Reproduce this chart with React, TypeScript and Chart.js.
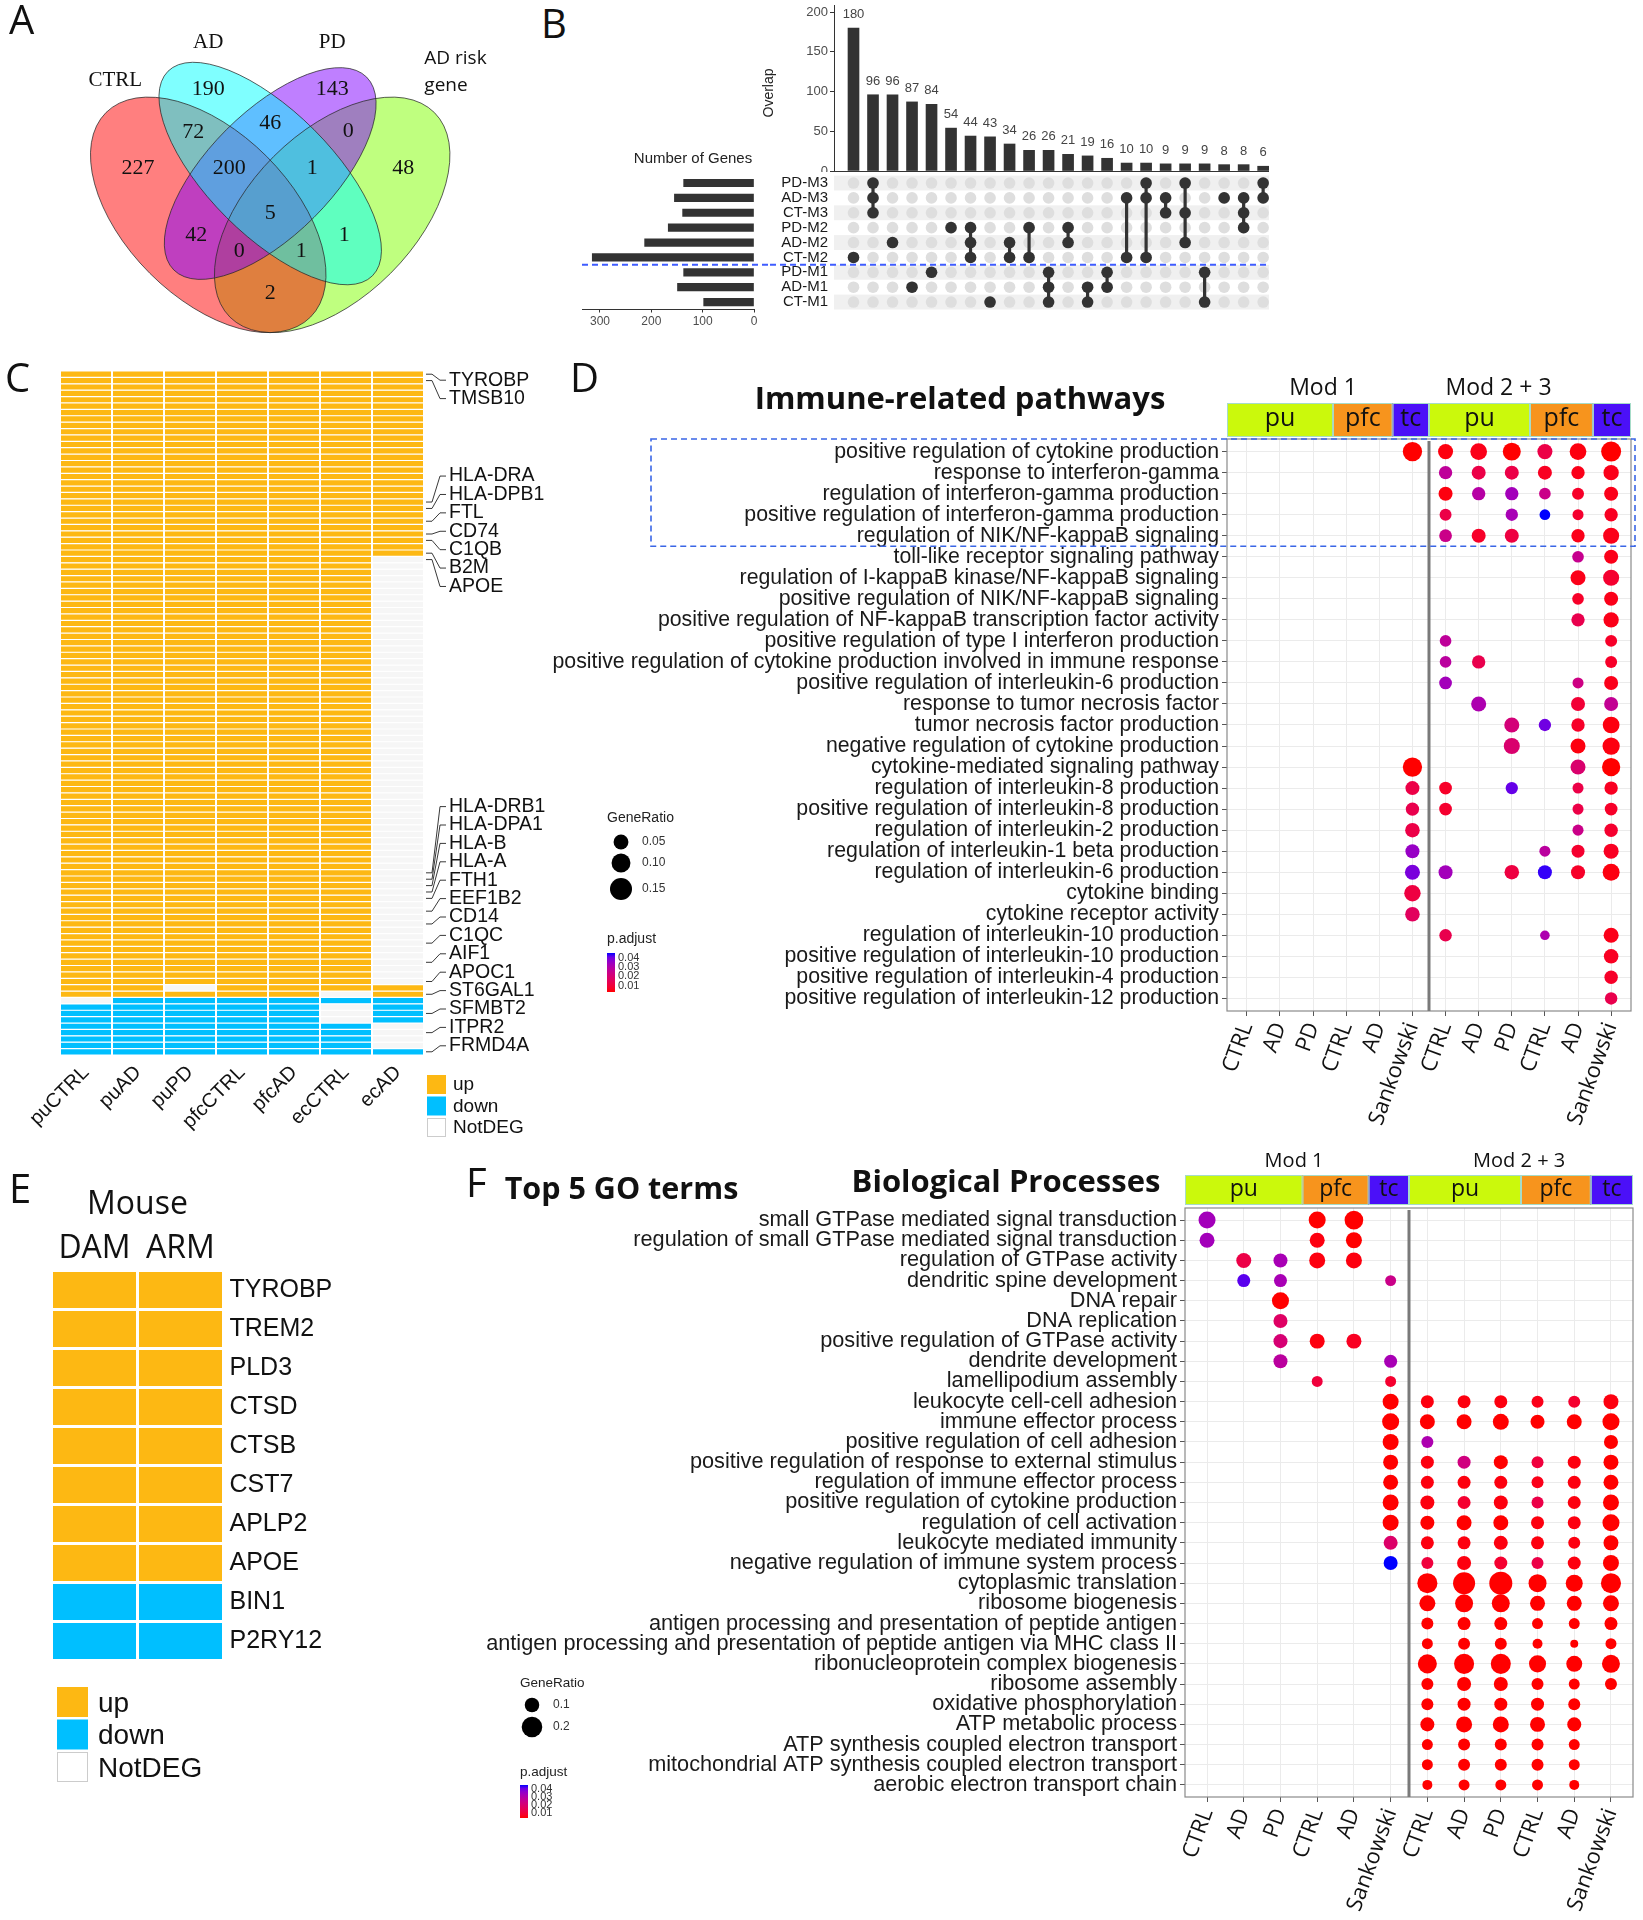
import React, { useEffect, useRef } from 'react';
import { Chart, registerables } from 'chart.js';

Chart.register(...registerables);

const SANS = '"Liberation Sans", Arial, Helvetica, sans-serif';
const MYR = '"Open Sans", "Noto Sans", sans-serif';
const SERIF = '"Liberation Serif", "Times New Roman", serif';
Chart.defaults.font.family = SANS;

/* ================= A: Venn ================= */
const vennSetNames = ['CTRL', 'AD', 'PD', 'AD risk\ngene'];
const vennCounts = [227, 190, 143, 48, 72, 46, 0, 200, 1, 5, 42, 0, 1, 1, 2];

/* ================= B: UpSet ================= */
const upsetSets = ['PD-M3', 'AD-M3', 'CT-M3', 'PD-M2', 'AD-M2', 'CT-M2', 'PD-M1', 'AD-M1', 'CT-M1'];
const upsetSetSizes = [137, 155, 139, 167, 213, 315, 137, 149, 98];
const upsetOverlap = [180, 96, 96, 87, 84, 54, 44, 43, 34, 26, 26, 21, 19, 16, 10, 10, 9, 9, 9, 8, 8, 6];
const upsetMembers = [
  ['CT-M2'], ['PD-M3', 'AD-M3', 'CT-M3'], ['AD-M2'], ['AD-M1'], ['PD-M1'], ['PD-M2'],
  ['PD-M2', 'AD-M2', 'CT-M2'], ['CT-M1'], ['AD-M2', 'CT-M2'], ['PD-M2', 'CT-M2'],
  ['PD-M1', 'AD-M1', 'CT-M1'], ['PD-M2', 'AD-M2'], ['AD-M1', 'CT-M1'], ['PD-M1', 'AD-M1'],
  ['AD-M3', 'CT-M2'], ['PD-M3', 'AD-M3', 'CT-M2'], ['AD-M3', 'CT-M3'], ['PD-M3', 'CT-M3', 'AD-M2'],
  ['PD-M1', 'CT-M1'], ['AD-M3'], ['AD-M3', 'CT-M3', 'PD-M2'], ['PD-M3', 'AD-M3'],
];
const overlapTicks = [0, 50, 100, 150, 200];
const setSizeTicks = [0, 100, 200, 300];

/* ================= C: DEG heatmap ================= */
const degSamples = ['puCTRL', 'puAD', 'puPD', 'pfcCTRL', 'pfcAD', 'ecCTRL', 'ecAD'];
const runsPuCTRL: [string, number][] = [['up', 98], ['NotDEG', 1], ['down', 8]];
const runsPuAD: [string, number][] = [['up', 98], ['down', 9]];
const runsPuPD: [string, number][] = [['up', 96], ['NotDEG', 1], ['up', 1], ['down', 9]];
const runsPfcCTRL: [string, number][] = [['up', 98], ['down', 9]];
const runsPfcAD: [string, number][] = [['up', 98], ['down', 9]];
const runsEcCTRL: [string, number][] = [['up', 97], ['NotDEG', 1], ['down', 1], ['NotDEG', 3], ['down', 5]];
const runsEcAD: [string, number][] = [['up', 29], ['NotDEG', 67], ['up', 2], ['down', 4], ['NotDEG', 4], ['down', 1]];
const markedGenes = ['TYROBP', 'TMSB10', 'HLA-DRA', 'HLA-DPB1', 'FTL', 'CD74', 'C1QB', 'B2M', 'APOE',
  'HLA-DRB1', 'HLA-DPA1', 'HLA-B', 'HLA-A', 'FTH1', 'EEF1B2', 'CD14', 'C1QC', 'AIF1', 'APOC1',
  'ST6GAL1', 'SFMBT2', 'ITPR2', 'FRMD4A'];
const markedRows = [0, 1, 20, 21, 23, 25, 26, 28, 29, 78, 79, 80, 81, 82, 84, 86, 89, 92, 95, 97, 100, 103, 106];
const statusLegend = ['up', 'down', 'NotDEG'];

/* ================= D: immune pathways ================= */
const immuneTerms = [
  'positive regulation of cytokine production',
  'response to interferon-gamma',
  'regulation of interferon-gamma production',
  'positive regulation of interferon-gamma production',
  'regulation of NIK/NF-kappaB signaling',
  'toll-like receptor signaling pathway',
  'regulation of I-kappaB kinase/NF-kappaB signaling',
  'positive regulation of NIK/NF-kappaB signaling',
  'positive regulation of NF-kappaB transcription factor activity',
  'positive regulation of type I interferon production',
  'positive regulation of cytokine production involved in immune response',
  'positive regulation of interleukin-6 production',
  'response to tumor necrosis factor',
  'tumor necrosis factor production',
  'negative regulation of cytokine production',
  'cytokine-mediated signaling pathway',
  'regulation of interleukin-8 production',
  'positive regulation of interleukin-8 production',
  'regulation of interleukin-2 production',
  'regulation of interleukin-1 beta production',
  'regulation of interleukin-6 production',
  'cytokine binding',
  'cytokine receptor activity',
  'regulation of interleukin-10 production',
  'positive regulation of interleukin-10 production',
  'positive regulation of interleukin-4 production',
  'positive regulation of interleukin-12 production',
];
const moduleGroups = ['CTRL', 'AD', 'PD', 'CTRL', 'AD', 'Sankowski', 'CTRL', 'AD', 'PD', 'CTRL', 'AD', 'Sankowski'];
// [term row, group column, GeneRatio, p.adjust]
const immuneDots = [
  [0, 5, .106, .003], [0, 6, .052, .004], [0, 7, .071, .005], [0, 8, .087, .003], [0, 9, .052, .012], [0, 10, .071, .004], [0, 11, .116, .003],
  [1, 6, .036, .027], [1, 7, .042, .012], [1, 8, .042, .012], [1, 9, .042, .006], [1, 10, .036, .005], [1, 11, .055, .005],
  [2, 6, .042, .004], [2, 7, .036, .029], [2, 8, .036, .033], [2, 9, .023, .024], [2, 10, .025, .007], [2, 11, .042, .005],
  [3, 6, .025, .012], [3, 8, .028, .032], [3, 9, .017, .045], [3, 10, .019, .008], [3, 11, .036, .006],
  [4, 6, .031, .024], [4, 7, .042, .007], [4, 8, .042, .011], [4, 10, .036, .005], [4, 11, .063, .005],
  [5, 10, .023, .025], [5, 11, .042, .005],
  [6, 10, .052, .005], [6, 11, .063, .008],
  [7, 10, .023, .007], [7, 11, .042, .005],
  [8, 10, .036, .013], [8, 11, .055, .005],
  [9, 6, .023, .027], [9, 11, .025, .007],
  [10, 6, .023, .028], [10, 7, .036, .013], [10, 11, .025, .007],
  [11, 6, .031, .033], [11, 10, .019, .023], [11, 11, .042, .005],
  [12, 7, .052, .031], [12, 10, .042, .009], [12, 11, .042, .026],
  [13, 8, .052, .021], [13, 9, .028, .040], [13, 10, .036, .007], [13, 11, .071, .004],
  [14, 8, .063, .019], [14, 10, .052, .004], [14, 11, .078, .004],
  [15, 5, .106, .003], [15, 10, .052, .019], [15, 11, .091, .003],
  [16, 5, .042, .012], [16, 6, .031, .007], [16, 8, .028, .041], [16, 10, .019, .012], [16, 11, .036, .006],
  [17, 5, .036, .013], [17, 6, .031, .008], [17, 10, .019, .012], [17, 11, .031, .007],
  [18, 5, .047, .012], [18, 10, .019, .024], [18, 11, .037, .008],
  [19, 5, .042, .035], [19, 9, .019, .028], [19, 10, .033, .008], [19, 11, .052, .006],
  [20, 5, .052, .039], [20, 6, .042, .033], [20, 8, .047, .011], [20, 9, .042, .044], [20, 10, .042, .007], [20, 11, .074, .004],
  [21, 5, .068, .011],
  [22, 5, .047, .016],
  [23, 6, .029, .013], [23, 9, .011, .031], [23, 11, .052, .005],
  [24, 11, .047, .006],
  [25, 11, .037, .007],
  [26, 11, .029, .013],
];
const immuneRatioBreaks = [0.05, 0.10, 0.15];
const pAdjustBreaks = [0.01, 0.02, 0.03, 0.04];

/* ================= E: mouse ================= */
const mouseStates = ['DAM', 'ARM'];
const mouseGenes = ['TYROBP', 'TREM2', 'PLD3', 'CTSD', 'CTSB', 'CST7', 'APLP2', 'APOE', 'BIN1', 'P2RY12'];
const mouseDAM = ['up', 'up', 'up', 'up', 'up', 'up', 'up', 'up', 'down', 'down'];
const mouseARM = ['up', 'up', 'up', 'up', 'up', 'up', 'up', 'up', 'down', 'down'];

/* ================= F: GO terms ================= */
const goTerms = [
  'small GTPase mediated signal transduction',
  'regulation of small GTPase mediated signal transduction',
  'regulation of GTPase activity',
  'dendritic spine development',
  'DNA repair',
  'DNA replication',
  'positive regulation of GTPase activity',
  'dendrite development',
  'lamellipodium assembly',
  'leukocyte cell-cell adhesion',
  'immune effector process',
  'positive regulation of cell adhesion',
  'positive regulation of response to external stimulus',
  'regulation of immune effector process',
  'positive regulation of cytokine production',
  'regulation of cell activation',
  'leukocyte mediated immunity',
  'negative regulation of immune system process',
  'cytoplasmic translation',
  'ribosome biogenesis',
  'antigen processing and presentation of peptide antigen',
  'antigen processing and presentation of peptide antigen via MHC class II',
  'ribonucleoprotein complex biogenesis',
  'ribosome assembly',
  'oxidative phosphorylation',
  'ATP metabolic process',
  'ATP synthesis coupled electron transport',
  'mitochondrial ATP synthesis coupled electron transport',
  'aerobic electron transport chain',
];
const goDots = [
  [0, 0, .137, .033], [0, 3, .137, .003], [0, 4, .165, .003],
  [1, 0, .106, .033], [1, 3, .106, .004], [1, 4, .121, .003],
  [2, 1, .106, .012], [2, 2, .093, .032], [2, 3, .121, .004], [2, 4, .121, .004],
  [3, 1, .080, .042], [3, 2, .080, .032], [3, 5, .057, .024],
  [4, 2, .137, .003],
  [5, 2, .093, .017],
  [6, 2, .093, .020], [6, 3, .106, .004], [6, 4, .106, .006],
  [7, 2, .093, .028], [7, 5, .080, .032],
  [8, 3, .057, .010], [8, 5, .057, .008],
  [9, 5, .121, .003], [9, 6, .080, .004], [9, 7, .080, .004], [9, 8, .080, .004], [9, 9, .068, .005], [9, 10, .068, .008], [9, 11, .106, .004],
  [10, 5, .137, .003], [10, 6, .106, .003], [10, 7, .106, .003], [10, 8, .121, .003], [10, 9, .093, .003], [10, 10, .106, .003], [10, 11, .137, .003],
  [11, 5, .121, .003], [11, 6, .068, .031], [11, 11, .093, .003],
  [12, 5, .106, .003], [12, 6, .080, .004], [12, 7, .080, .022], [12, 8, .093, .003], [12, 9, .068, .010], [12, 10, .080, .004], [12, 11, .106, .003],
  [13, 5, .106, .003], [13, 6, .080, .004], [13, 7, .080, .004], [13, 8, .080, .004], [13, 9, .068, .005], [13, 10, .080, .004], [13, 11, .106, .003],
  [14, 5, .121, .003], [14, 6, .093, .004], [14, 7, .080, .008], [14, 8, .093, .004], [14, 9, .068, .012], [14, 10, .080, .004], [14, 11, .121, .003],
  [15, 5, .121, .003], [15, 6, .093, .003], [15, 7, .106, .003], [15, 8, .106, .003], [15, 9, .080, .004], [15, 10, .080, .004], [15, 11, .137, .003],
  [16, 5, .093, .018], [16, 6, .080, .004], [16, 7, .080, .004], [16, 8, .093, .004], [16, 9, .080, .004], [16, 10, .068, .004], [16, 11, .106, .003],
  [17, 5, .093, .045], [17, 6, .068, .010], [17, 7, .093, .004], [17, 8, .080, .008], [17, 9, .068, .012], [17, 10, .080, .004], [17, 11, .121, .003],
  [18, 6, .190, .003], [18, 7, .230, .003], [18, 8, .250, .003], [18, 9, .153, .003], [18, 10, .137, .003], [18, 11, .190, .003],
  [19, 6, .121, .003], [19, 7, .153, .003], [19, 8, .153, .003], [19, 9, .106, .003], [19, 10, .106, .003], [19, 11, .121, .003],
  [20, 6, .068, .003], [20, 7, .080, .003], [20, 8, .080, .003], [20, 9, .057, .003], [20, 10, .057, .003], [20, 11, .080, .003],
  [21, 6, .057, .003], [21, 7, .068, .003], [21, 8, .068, .003], [21, 9, .047, .003], [21, 10, .030, .003], [21, 11, .057, .003],
  [22, 6, .171, .003], [22, 7, .190, .003], [22, 8, .190, .003], [22, 9, .137, .003], [22, 10, .121, .003], [22, 11, .153, .003],
  [23, 6, .068, .003], [23, 7, .093, .003], [23, 8, .093, .003], [23, 9, .068, .003], [23, 10, .057, .003], [23, 11, .068, .003],
  [24, 6, .068, .003], [24, 7, .080, .003], [24, 8, .080, .003], [24, 9, .080, .003], [24, 10, .068, .003],
  [25, 6, .093, .003], [25, 7, .121, .003], [25, 8, .121, .003], [25, 9, .106, .003], [25, 10, .093, .003],
  [26, 6, .057, .003], [26, 7, .068, .003], [26, 8, .068, .003], [26, 9, .068, .003], [26, 10, .057, .003],
  [27, 6, .057, .003], [27, 7, .068, .003], [27, 8, .068, .003], [27, 9, .068, .003], [27, 10, .057, .003],
  [28, 6, .047, .003], [28, 7, .057, .003], [28, 8, .057, .003], [28, 9, .057, .003], [28, 10, .047, .003],
];
const goRatioBreaks = [0.1, 0.2];

/* ================= styling helpers ================= */
const STATUS_COLOR: Record<string, string> = { up: '#FDB813', down: '#00BFFF', NotDEG: '#F6F6F6' };
const STRIP_COLOR: Record<string, string> = { pu: '#CBF90C', pfc: '#F7941D', tc: '#4B10F8' };
const stripSpans: [string, number, number][] = [
  ['pu', -0.6, 2.6], ['pfc', 2.6, 4.4], ['tc', 4.4, 5.5], ['pu', 5.5, 8.55], ['pfc', 8.55, 10.45], ['tc', 10.45, 11.6],
];
const P_LO = 0.003, P_HI = 0.045;
const LAB_RED = [53.24, 80.09, 67.2];
const LAB_BLUE = [32.3, 79.19, -107.86];

function labToRgb(L: number, a: number, b: number) {
  const fy = (L + 16) / 116, fx = fy + a / 500, fz = fy - b / 200;
  const f = (t: number) => (t > 6 / 29 ? t * t * t : 3 * (6 / 29) ** 2 * (t - 4 / 29));
  const X = 0.95047 * f(fx), Y = f(fy), Z = 1.08883 * f(fz);
  const r = 3.2406 * X - 1.5372 * Y - 0.4986 * Z;
  const g = -0.9689 * X + 1.8758 * Y + 0.0415 * Z;
  const bb = 0.0557 * X - 0.204 * Y + 1.057 * Z;
  const gam = (c: number) => {
    c = Math.max(0, Math.min(1, c));
    return Math.round((c <= 0.0031308 ? 12.92 * c : 1.055 * Math.pow(c, 1 / 2.4) - 0.055) * 255);
  };
  return `rgb(${gam(r)},${gam(g)},${gam(bb)})`;
}
function pColor(p: number) {
  const t = Math.max(0, Math.min(1, (p - P_LO) / (P_HI - P_LO)));
  return labToRgb(
    LAB_RED[0] + (LAB_BLUE[0] - LAB_RED[0]) * t,
    LAB_RED[1] + (LAB_BLUE[1] - LAB_RED[1]) * t,
    LAB_RED[2] + (LAB_BLUE[2] - LAB_RED[2]) * t,
  );
}
const rImmune = (g: number) => 2.5 + 22 * Math.sqrt(g);
const rGo = (g: number) => 23 * Math.sqrt(g);

type TextItem = { t: string; x: number; y: number; font: string; color?: string; align?: CanvasTextAlign; base?: CanvasTextBaseline; rot?: number };
function drawText(ctx: CanvasRenderingContext2D, it: TextItem) {
  ctx.save();
  ctx.font = it.font;
  ctx.fillStyle = it.color || '#111';
  ctx.textAlign = it.align || 'center';
  ctx.textBaseline = it.base || 'middle';
  ctx.translate(it.x, it.y);
  if (it.rot) ctx.rotate(it.rot);
  ctx.fillText(it.t, 0, 0);
  ctx.restore();
}

const zeroPad = (s: any) => { s.paddingTop = 0; s.paddingBottom = 0; s.paddingLeft = 0; s.paddingRight = 0; };
const fixW = (w: number) => (s: any) => { s.width = w; zeroPad(s); };
const fixH = (h: number) => (s: any) => { s.height = h; zeroPad(s); };

const baseOpts = (extra: any) => ({
  responsive: false,
  animation: false,
  devicePixelRatio: 1,
  events: [],
  plugins: { legend: { display: false }, tooltip: { enabled: false }, title: { display: false } },
  ...extra,
});

const expandRuns = (runs: [string, number][]) => runs.flatMap(([s, n]) => Array(n).fill(s));

function spreadLabels(ys: number[], gap: number, lo: number, hi: number) {
  const order = ys.map((_, i) => i).sort((a, b) => ys[a] - ys[b]);
  const place = (c: any) => {
    const n = c.items.length;
    c.start = Math.min(hi - n * gap, Math.max(lo, c.sum / n - (n * gap) / 2));
  };
  let cl: any[] = order.map((i) => ({ items: [i], sum: ys[i], start: 0 }));
  cl.forEach(place);
  let merged = true;
  while (merged) {
    merged = false;
    for (let i = 0; i < cl.length - 1; i++) {
      const a = cl[i], b = cl[i + 1];
      if (a.start + a.items.length * gap > b.start + 1e-6) {
        const m = { items: a.items.concat(b.items), sum: a.sum + b.sum, start: 0 };
        place(m);
        cl.splice(i, 2, m);
        merged = true;
        break;
      }
    }
  }
  const out: number[] = new Array(ys.length);
  cl.forEach((c) => c.items.forEach((idx: number, k: number) => { out[idx] = c.start + (k + 0.5) * gap; }));
  return out;
}

/* ================= A config ================= */
const vennEllipses = [
  { cx: 0.65, cy: 0.47, a: 0.35, b: 0.2, rot: 45, fill: 'rgba(128,255,0,0.5)' },
  { cx: 0.35, cy: 0.47, a: 0.35, b: 0.2, rot: 135, fill: 'rgba(255,0,0,0.5)' },
  { cx: 0.5, cy: 0.57, a: 0.33, b: 0.15, rot: 45, fill: 'rgba(128,0,255,0.5)' },
  { cx: 0.5, cy: 0.57, a: 0.35, b: 0.15, rot: 135, fill: 'rgba(0,255,255,0.5)' },
];
const vennCountPos = [
  [0.18, 0.583], [0.35, 0.774], [0.65, 0.774], [0.822, 0.583], [0.314, 0.67], [0.5, 0.692], [0.689, 0.673],
  [0.401, 0.583], [0.602, 0.583], [0.5, 0.474], [0.321, 0.421], [0.425, 0.382], [0.575, 0.382], [0.679, 0.421], [0.5, 0.28],
];
const vennNamePos = [[0.125, 0.796], [0.35, 0.886], [0.65, 0.886], [0.873, 0.847]];

function makeVenn() {
  return {
    type: 'scatter',
    data: { datasets: [{ data: vennCounts.map((v, i) => ({ x: vennCountPos[i][0], y: vennCountPos[i][1], v })), pointRadius: 0 }] },
    options: baseOpts({
      layout: { padding: 0, autoPadding: false },
      scales: {
        x: { type: 'linear', min: -0.154, max: 1.153, display: false },
        y: { type: 'linear', min: 0.155, max: 0.99, display: false },
      },
    }),
    plugins: [{
      id: 'venn',
      beforeDatasetsDraw(chart: any) {
        const { ctx, scales: { x, y } } = chart;
        const k = x.getPixelForValue(1) - x.getPixelForValue(0);
        ctx.save();
        const path = (e: any) => {
          ctx.beginPath();
          ctx.ellipse(x.getPixelForValue(e.cx), y.getPixelForValue(e.cy), e.a * k, e.b * k, (-e.rot * Math.PI) / 180, 0, Math.PI * 2);
        };
        vennEllipses.forEach((e) => { path(e); ctx.fillStyle = e.fill; ctx.fill(); });
        ctx.strokeStyle = 'rgba(40,40,40,0.75)';
        ctx.lineWidth = 1;
        vennEllipses.forEach((e) => { path(e); ctx.stroke(); });
        ctx.restore();
      },
      afterDatasetsDraw(chart: any) {
        const { ctx, scales: { x, y } } = chart;
        const meta = chart.getDatasetMeta(0);
        meta.data.forEach((el: any, i: number) => {
          drawText(ctx, { t: String(vennCounts[i]), x: el.x, y: el.y, font: `22px ${SERIF}`, color: '#111' });
        });
        vennSetNames.forEach((n, i) => {
          const px = x.getPixelForValue(vennNamePos[i][0]);
          const py = y.getPixelForValue(vennNamePos[i][1]);
          if (n.includes('\n')) {
            n.split('\n').forEach((line, j) => drawText(ctx, { t: line, x: px, y: py + j * 27, font: `19px ${MYR}`, align: 'left', color: '#111' }));
          } else {
            drawText(ctx, { t: n, x: px, y: py, font: `21px ${SERIF}`, color: '#111' });
          }
        });
      },
    }],
  };
}

/* ================= B configs ================= */
function makeUpsetBars() {
  return {
    type: 'bar',
    data: { datasets: [{ data: upsetOverlap.map((v, i) => ({ x: i, y: v })), backgroundColor: '#333333', barThickness: 11 }] },
    options: baseOpts({
      layout: { padding: { top: 5, right: 11, bottom: 1, left: 0 }, autoPadding: false },
      scales: {
        x: { type: 'linear', min: -1, max: 21.3, display: false, offset: false, grid: { offset: false } },
        y: {
          min: 0, max: 209,
          afterBuildTicks: (s: any) => { s.ticks = overlapTicks.map((v) => ({ value: v })); },
          afterFit: fixW(94),
          ticks: { font: { size: 13 }, color: '#4d4d4d', padding: 2 },
          grid: { display: true, drawOnChartArea: false, drawTicks: true, tickLength: 4, tickColor: '#333' },
          border: { display: true, color: '#333', width: 1 },
        },
      },
    }),
    plugins: [{
      id: 'barLabels',
      afterDatasetsDraw(chart: any) {
        const { ctx, chartArea: ca } = chart;
        chart.getDatasetMeta(0).data.forEach((el: any, i: number) => {
          drawText(ctx, { t: String(upsetOverlap[i]), x: el.x, y: el.y - 7, font: `13px ${SANS}`, color: '#444', base: 'bottom' });
        });
        ctx.save();
        ctx.strokeStyle = '#333';
        ctx.lineWidth = 1;
        ctx.beginPath();
        ctx.moveTo(ca.left, ca.bottom + 0.5);
        ctx.lineTo(ca.right, ca.bottom + 0.5);
        ctx.stroke();
        ctx.restore();
        drawText(ctx, { t: 'Overlap', x: 29, y: 93, font: `14px ${SANS}`, color: '#222', rot: -Math.PI / 2 });
      },
    }],
  };
}

function makeUpsetMatrix() {
  const grid: any[] = [];
  upsetOverlap.forEach((_, i) => upsetSets.forEach((__, r) => grid.push({ x: i, y: r })));
  const active = upsetMembers.map((m, i) => ({
    data: m.map((s) => ({ x: i, y: upsetSets.indexOf(s) })).sort((a, b) => a.y - b.y),
    showLine: true, borderColor: '#333', borderWidth: 3.2,
    pointRadius: 5.8, pointBackgroundColor: '#333', pointBorderWidth: 0, order: 0,
  }));
  return {
    type: 'scatter',
    data: { datasets: [...active, { data: grid, pointRadius: 5.8, pointBackgroundColor: '#dedede', pointBorderWidth: 0, order: 1 }] },
    options: baseOpts({
      layout: { padding: { top: 3.6, right: 11, bottom: 2.5, left: 0 }, autoPadding: false },
      scales: {
        x: { type: 'linear', min: -1, max: 21.3, display: false },
        y: {
          type: 'linear', min: -0.5, max: 8.5, reverse: true,
          afterBuildTicks: (s: any) => { s.ticks = upsetSets.map((_, i) => ({ value: i })); },
          afterFit: fixW(64),
          ticks: { callback: (v: any) => upsetSets[v], autoSkip: false, font: { size: 15 }, color: '#1a1a1a', padding: 6 },
          grid: { display: false, drawTicks: false },
          border: { display: false },
        },
      },
    }),
    plugins: [{
      id: 'stripes',
      beforeDatasetsDraw(chart: any) {
        const { ctx, chartArea: ca, scales: { y } } = chart;
        ctx.save();
        ctx.fillStyle = '#f0f0f0';
        upsetSets.forEach((_, r) => {
          if (r % 2 === 0) {
            const y0 = y.getPixelForValue(r - 0.5), y1 = y.getPixelForValue(r + 0.5);
            ctx.fillRect(ca.left, y0, ca.right - ca.left, y1 - y0);
          }
        });
        ctx.restore();
      },
      afterDatasetsDraw(chart: any) {
        const { ctx, chartArea: ca, scales: { y } } = chart;
        const yy = y.getPixelForValue(5.5);
        ctx.save();
        ctx.strokeStyle = '#3f5cff';
        ctx.lineWidth = 2;
        ctx.setLineDash([6, 4]);
        ctx.beginPath();
        ctx.moveTo(0, yy);
        ctx.lineTo(ca.right, yy);
        ctx.stroke();
        ctx.restore();
      },
    }],
  };
}

function makeUpsetSetSizes() {
  return {
    type: 'bar',
    data: { labels: upsetSets, datasets: [{ data: upsetSetSizes, backgroundColor: '#333333', barThickness: 7.5 }] },
    options: baseOpts({
      indexAxis: 'y',
      layout: { padding: { top: 25.6, right: 16, bottom: 0, left: 12 }, autoPadding: false },
      scales: {
        x: {
          min: 0, max: 335, reverse: true,
          afterBuildTicks: (s: any) => { s.ticks = setSizeTicks.map((v) => ({ value: v })); },
          afterFit: fixH(20.5),
          ticks: { font: { size: 12 }, color: '#4d4d4d', padding: 2 },
          grid: { display: true, drawOnChartArea: false, drawTicks: true, tickLength: 3, tickColor: '#333' },
          border: { display: true, color: '#333', width: 1 },
        },
        y: { display: false },
      },
    }),
    plugins: [{
      id: 'setDecor',
      afterDraw(chart: any) {
        const { ctx, chartArea: ca, scales: { y } } = chart;
        const yy = (y.getPixelForValue(5) + y.getPixelForValue(6)) / 2;
        ctx.save();
        ctx.strokeStyle = '#3f5cff';
        ctx.lineWidth = 2;
        ctx.setLineDash([6, 4]);
        ctx.beginPath();
        ctx.moveTo(ca.left, yy);
        ctx.lineTo(chart.width, yy);
        ctx.stroke();
        ctx.restore();
        drawText(ctx, { t: 'Number of Genes', x: 123, y: 9, font: `15px ${SANS}`, color: '#222' });
      },
    }],
  };
}

/* ================= C config ================= */
function makeDegHeatmap() {
  const cols = [runsPuCTRL, runsPuAD, runsPuPD, runsPfcCTRL, runsPfcAD, runsEcCTRL, runsEcAD].map(expandRuns);
  const rowIds = cols[0].map((_, i) => `row${i + 1}`);
  return {
    type: 'bar',
    data: {
      labels: rowIds,
      datasets: cols.map((st, c) => ({
        data: st.map(() => [c, c + 1]),
        backgroundColor: st.map((s) => STATUS_COLOR[s]),
        borderColor: '#ffffff',
        borderWidth: { top: 0.6, bottom: 0.6, left: 1, right: 1 },
        borderSkipped: false, inflateAmount: 0,
        barPercentage: 1, categoryPercentage: 1, grouped: false,
      })),
    },
    options: baseOpts({
      indexAxis: 'y',
      layout: { padding: { top: 11, right: 156, bottom: 0, left: 60 }, autoPadding: false },
      scales: {
        x: {
          type: 'linear', min: 0, max: 7,
          afterBuildTicks: (s: any) => { s.ticks = degSamples.map((_, i) => ({ value: i + 0.5 })); },
          afterFit: fixH(95),
          ticks: { callback: (v: any) => degSamples[Math.floor(v)], autoSkip: false, minRotation: 45, maxRotation: 45, font: { size: 20 }, color: '#111', padding: 6 },
          grid: { display: false, drawTicks: false },
          border: { display: false },
        },
        y: { type: 'category', display: false },
      },
    }),
    plugins: [{
      id: 'marks',
      afterDraw(chart: any) {
        const { ctx, chartArea: ca, scales: { y } } = chart;
        const ys = markedRows.map((r) => y.getPixelForValue(r));
        const lab = spreadLabels(ys, 18.4, ca.top, ca.bottom);
        ctx.save();
        ctx.strokeStyle = '#222';
        ctx.lineWidth = 0.9;
        markedGenes.forEach((g, i) => {
          ctx.beginPath();
          ctx.moveTo(ca.right + 2, ys[i]);
          ctx.lineTo(ca.right + 8, ys[i]);
          ctx.lineTo(ca.right + 16, lab[i]);
          ctx.lineTo(ca.right + 22, lab[i]);
          ctx.stroke();
          drawText(ctx, { t: g, x: ca.right + 25, y: lab[i], font: `19.5px ${SANS}`, align: 'left', color: '#111' });
        });
        ctx.restore();
        statusLegend.forEach((s, i) => {
          const by = 715 + i * 21.5;
          ctx.save();
          ctx.fillStyle = s === 'NotDEG' ? '#ffffff' : STATUS_COLOR[s];
          ctx.fillRect(427, by, 19, 19);
          if (s === 'NotDEG') { ctx.strokeStyle = '#cccccc'; ctx.lineWidth = 1; ctx.strokeRect(427.5, by + 0.5, 18, 18); }
          ctx.restore();
          drawText(ctx, { t: s, x: 453, y: by + 10, font: `19px ${SANS}`, align: 'left', color: '#111' });
        });
      },
    }],
  };
}

/* ================= E config ================= */
function makeMouseHeatmap() {
  return {
    type: 'bar',
    data: {
      labels: mouseGenes,
      datasets: [mouseDAM, mouseARM].map((st, c) => ({
        data: st.map(() => [c, c + 1]),
        backgroundColor: st.map((s) => STATUS_COLOR[s]),
        borderColor: '#ffffff', borderWidth: 1.5, borderSkipped: false, inflateAmount: 0,
        barPercentage: 1, categoryPercentage: 1, grouped: false,
      })),
    },
    options: baseOpts({
      indexAxis: 'y',
      layout: { padding: { top: 0, right: 0, bottom: 139.5, left: 51.5 }, autoPadding: false },
      scales: {
        x: {
          type: 'linear', position: 'top', min: 0, max: 2,
          afterBuildTicks: (s: any) => { s.ticks = [{ value: 0.5 }, { value: 1.5 }]; },
          afterFit: fixH(110.5),
          ticks: { callback: (v: any) => mouseStates[Math.floor(v)], autoSkip: false, minRotation: 0, maxRotation: 0, font: { family: MYR, size: 32 }, color: '#111', padding: 2 },
          grid: { display: false, drawTicks: false },
          border: { display: false },
          title: { display: true, text: 'Mouse', font: { family: MYR, size: 32 }, color: '#111', padding: { top: 26, bottom: 0 } },
        },
        y: {
          type: 'category', position: 'right',
          afterFit: fixW(236.5),
          ticks: { font: { size: 25 }, color: '#111', padding: 6, autoSkip: false },
          grid: { display: false, drawTicks: false },
          border: { display: false },
        },
      },
    }),
    plugins: [{
      id: 'mouseLegend',
      afterDraw(chart: any) {
        const { ctx } = chart;
        statusLegend.forEach((s, i) => {
          const by = 527 + i * 32.5;
          ctx.save();
          ctx.fillStyle = s === 'NotDEG' ? '#ffffff' : STATUS_COLOR[s];
          ctx.fillRect(57, by, 31, 30);
          if (s === 'NotDEG') { ctx.strokeStyle = '#cccccc'; ctx.lineWidth = 1; ctx.strokeRect(57.5, by + 0.5, 30, 29); }
          ctx.restore();
          drawText(ctx, { t: s, x: 98, y: by + 17, font: `28px ${SANS}`, align: 'left', color: '#111' });
        });
      },
    }],
  };
}

/* ================= D / F dot plots ================= */
function makeDotPlot(o: any) {
  const { terms, dots, rOf } = o;
  const gridOpts = { color: '#ebebeb', lineWidth: 1, drawTicks: true, tickLength: 5, tickColor: '#555', tickWidth: 1 };
  return {
    type: 'scatter',
    data: {
      datasets: [{
        data: dots.map((d: number[]) => ({ x: d[1], y: d[0], g: d[2], p: d[3] })),
        pointRadius: (c: any) => (c.raw ? rOf(c.raw.g) : 3),
        pointHoverRadius: (c: any) => (c.raw ? rOf(c.raw.g) : 3),
        pointBackgroundColor: (c: any) => (c.raw ? pColor(c.raw.p) : '#f00'),
        pointBorderWidth: 0,
        pointBorderColor: 'rgba(0,0,0,0)',
        clip: false,
      }],
    },
    options: baseOpts({
      layout: { padding: o.pad, autoPadding: false },
      scales: {
        x: {
          type: 'linear', min: -0.6, max: 11.6,
          afterBuildTicks: (s: any) => { s.ticks = moduleGroups.map((_, i) => ({ value: i })); },
          afterFit: fixH(o.xAxisH),
          ticks: { callback: (v: any) => moduleGroups[v], autoSkip: false, minRotation: 70, maxRotation: 70, font: { family: MYR, size: o.xFont }, color: '#111', padding: 3 },
          grid: gridOpts,
          border: { display: false },
        },
        y: {
          type: 'linear', reverse: true, min: -0.6, max: terms.length - 0.4,
          afterBuildTicks: (s: any) => { s.ticks = terms.map((_: any, i: number) => ({ value: i })); },
          afterFit: fixW(o.yAxisW),
          ticks: { callback: (v: any) => terms[v], autoSkip: false, font: { size: o.yFont }, color: '#1a1a1a', padding: 3 },
          grid: gridOpts,
          border: { display: false },
        },
      },
    }),
    plugins: [{
      id: 'dotDecor',
      beforeDatasetsDraw(chart: any) {
        const { ctx, chartArea: ca, scales: { x } } = chart;
        ctx.save();
        ctx.strokeStyle = '#8a8a8a';
        ctx.lineWidth = 1.2;
        ctx.strokeRect(ca.left, ca.top, ca.right - ca.left, ca.bottom - ca.top);
        const sx = x.getPixelForValue(5.5);
        ctx.lineWidth = 3;
        ctx.strokeStyle = '#7a7a7a';
        ctx.beginPath();
        ctx.moveTo(sx, ca.top + 2);
        ctx.lineTo(sx, ca.bottom);
        ctx.stroke();
        ctx.restore();
      },
      afterDraw(chart: any) {
        const { ctx, chartArea: ca, scales: { x, y } } = chart;
        stripSpans.forEach(([name, a, b]) => {
          const x0 = x.getPixelForValue(a), x1 = x.getPixelForValue(b);
          const y0 = ca.top - o.stripOff[0], y1 = ca.top - o.stripOff[1];
          ctx.save();
          ctx.fillStyle = STRIP_COLOR[name];
          ctx.fillRect(x0, y0, x1 - x0, y1 - y0);
          ctx.strokeStyle = '#a6dcc8';
          ctx.lineWidth = 1;
          ctx.strokeRect(x0 + 0.5, y0 + 0.5, x1 - x0 - 1, y1 - y0 - 1);
          ctx.restore();
          drawText(ctx, { t: name, x: (x0 + x1) / 2, y: (y0 + y1) / 2 - 1, font: `${o.stripFont}px ${MYR}`, color: '#111' });
        });
        o.mods.forEach(([t, u]: [string, number]) => drawText(ctx, { t, x: x.getPixelForValue(u), y: o.modY, font: `${o.modFont}px ${MYR}`, color: '#111' }));
        o.titles.forEach((t: TextItem) => drawText(ctx, t));
        const L = o.legend;
        drawText(ctx, { t: 'GeneRatio', x: L.x, y: L.titleY, font: `${L.titleFont}px ${SANS}`, align: 'left', color: '#222' });
        L.breaks.forEach((g: number, i: number) => {
          ctx.save();
          ctx.fillStyle = '#000';
          ctx.beginPath();
          ctx.arc(L.circleX, L.circleYs[i], rOf(g), 0, Math.PI * 2);
          ctx.fill();
          ctx.restore();
          drawText(ctx, { t: L.breakLabels[i], x: L.circleX + 21, y: L.circleYs[i], font: `${L.labFont}px ${SANS}`, align: 'left', color: '#333' });
        });
        drawText(ctx, { t: 'p.adjust', x: L.x, y: L.pTitleY, font: `${L.titleFont}px ${SANS}`, align: 'left', color: '#222' });
        const grad = ctx.createLinearGradient(0, L.barBottom, 0, L.barTop);
        for (let i = 0; i <= 10; i++) grad.addColorStop(i / 10, pColor(P_LO + ((P_HI - P_LO) * i) / 10));
        ctx.save();
        ctx.fillStyle = grad;
        ctx.fillRect(L.x, L.barTop, L.barW, L.barBottom - L.barTop);
        ctx.restore();
        pAdjustBreaks.forEach((p) => {
          const yy = L.barBottom - ((p - P_LO) / (P_HI - P_LO)) * (L.barBottom - L.barTop);
          drawText(ctx, { t: p.toFixed(2), x: L.x + L.barW + 3, y: yy, font: `${L.labFont - 1}px ${SANS}`, align: 'left', color: '#333' });
        });
        if (o.box) {
          const yb = y.getPixelForValue(o.box.toRow);
          ctx.save();
          ctx.strokeStyle = '#3a66e6';
          ctx.lineWidth = 1.6;
          ctx.setLineDash([6, 4]);
          ctx.strokeRect(o.box.left, ca.top, ca.right + 4 - o.box.left, yb - ca.top);
          ctx.restore();
        }
      },
    }],
  };
}

function makeImmune() {
  return makeDotPlot({
    terms: immuneTerms, dots: immuneDots, rOf: rImmune,
    pad: { top: 79, right: 12, bottom: 0, left: 0 }, yAxisW: 687, xAxisH: 129, yFont: 21.3, xFont: 22,
    stripOff: [36, 2], stripFont: 25, mods: [['Mod 1', 2.3], ['Mod 2 + 3', 7.6]], modY: 28, modFont: 23,
    titles: [{ t: 'Immune-related pathways', x: 420, y: 40, font: `bold 31px ${MYR}`, color: '#111' }],
    legend: {
      x: 67, titleY: 458, titleFont: 14, circleX: 81, circleYs: [482, 503, 529], breaks: immuneRatioBreaks,
      breakLabels: ['0.05', '0.10', '0.15'], labFont: 12, pTitleY: 579, barTop: 593, barBottom: 632, barW: 8,
    },
    box: { left: 111, toRow: 4.5 },
  });
}

function makeGo() {
  return makeDotPlot({
    terms: goTerms, dots: goDots, rOf: rGo,
    pad: { top: 68, right: 10, bottom: 0, left: 0 }, yAxisW: 725, xAxisH: 123, yFont: 21.7, xFont: 22,
    stripOff: [33, 3], stripFont: 23, mods: [['Mod 1', 2.37], ['Mod 2 + 3', 8.5]], modY: 21, modFont: 20,
    titles: [
      { t: 'Top 5 GO terms', x: 161.5, y: 50, font: `bold 30.5px ${MYR}`, color: '#111' },
      { t: 'Biological Processes', x: 546, y: 43, font: `bold 31px ${MYR}`, color: '#111' },
    ],
    legend: {
      x: 60, titleY: 543, titleFont: 13.5, circleX: 72, circleYs: [565, 587], breaks: goRatioBreaks,
      breakLabels: ['0.1', '0.2'], labFont: 12, pTitleY: 632, barTop: 645, barBottom: 678, barW: 8,
    },
    box: null,
  });
}

/* ================= React ================= */
function ChartCanvas({ left, top, width, height, make }: { left: number; top: number; width: number; height: number; make: () => any }) {
  const ref = useRef<HTMLCanvasElement>(null);
  useEffect(() => {
    if (!ref.current) return;
    const chart = new Chart(ref.current, make());
    return () => chart.destroy();
  }, [make]);
  return <canvas ref={ref} width={width} height={height} style={{ position: 'absolute', left, top, width, height }} />;
}

function Letter({ ch, left, top }: { ch: string; left: number; top: number }) {
  return (
    <div style={{ position: 'absolute', left, top, fontFamily: MYR, fontSize: 40, lineHeight: '40px', color: '#111' }}>{ch}</div>
  );
}

export default function App() {
  useEffect(() => {
    document.body.style.margin = '0';
    document.body.style.background = '#ffffff';
  }, []);
  return (
    <div style={{ position: 'relative', width: 1643, height: 1920, background: '#ffffff', overflow: 'hidden' }}>
      <ChartCanvas left={0} top={0} width={540} height={345} make={makeVenn} />
      <ChartCanvas left={740} top={0} width={540} height={172} make={makeUpsetBars} />
      <ChartCanvas left={570} top={150} width={200} height={180} make={makeUpsetSetSizes} />
      <ChartCanvas left={770} top={172} width={510} height={140} make={makeUpsetMatrix} />
      <ChartCanvas left={540} top={360} width={1103} height={780} make={makeImmune} />
      <ChartCanvas left={0} top={360} width={580} height={790} make={makeDegHeatmap} />
      <ChartCanvas left={0} top={1160} width={460} height={640} make={makeMouseHeatmap} />
      <ChartCanvas left={460} top={1140} width={1183} height={780} make={makeGo} />
      <Letter ch="A" left={9} top={-1} />
      <Letter ch="B" left={541} top={3} />
      <Letter ch="C" left={5} top={357} />
      <Letter ch="D" left={570} top={357} />
      <Letter ch="E" left={9} top={1168} />
      <Letter ch="F" left={466} top={1162} />
    </div>
  );
}
